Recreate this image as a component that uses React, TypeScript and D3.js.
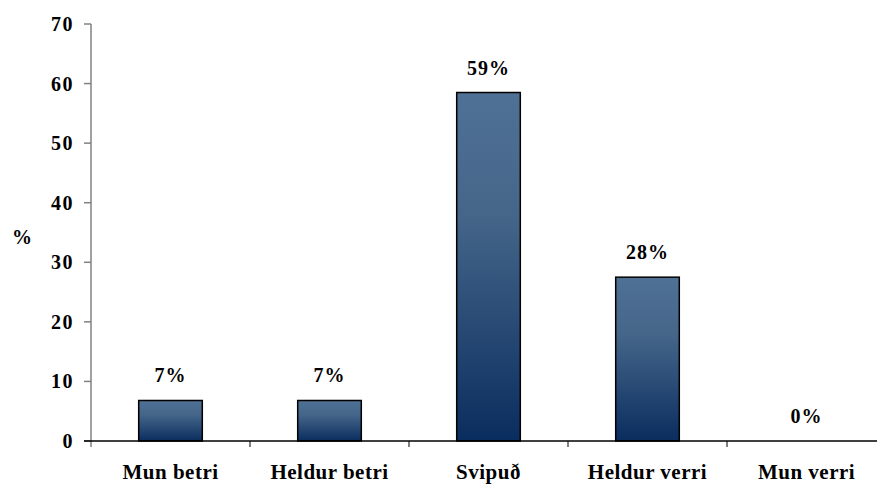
import React from "react";
import * as d3 from "d3";

const categories = ["Mun betri", "Heldur betri", "Svipuð", "Heldur verri", "Mun verri"];
const values = [6.8, 6.8, 58.5, 27.5, 0];
const valueLabels = ["7%", "7%", "59%", "28%", "0%"];
const yTicks = [0, 10, 20, 30, 40, 50, 60, 70];

const W = 877;
const H = 485;
const left = 91;
const right = 886;
const top = 24;
const bottom = 441;
const FONT = "'Liberation Serif', 'Times New Roman', serif";

export default function App() {
  const x = d3.scaleBand<string>().domain(categories).range([left, right]).paddingInner(0).paddingOuter(0);
  const y = d3.scaleLinear().domain([0, 70]).range([bottom, top]);
  const bw = x.bandwidth() * 0.4;

  return (
    <svg width={W} height={H} style={{ position: "absolute", left: 0, top: 0, display: "block" }}>
      <defs>
        <linearGradient id="barGrad" x1="0" y1="0" x2="0" y2="1">
          <stop offset="0" stopColor="#4f7196" />
          <stop offset="0.35" stopColor="#456689" />
          <stop offset="1" stopColor="#0a2d5f" />
        </linearGradient>
      </defs>
      <rect x={0} y={0} width={W} height={H} fill="#fff" />
      {/* y axis */}
      <line x1={left} x2={left} y1={top} y2={bottom + 6} stroke="#808080" strokeWidth={1.5} />
      {yTicks.map((t) => (
        <g key={t}>
          <line x1={left - 7} x2={left} y1={y(t)} y2={y(t)} stroke="#808080" strokeWidth={1.5} />
          <text
            x={74}
            y={y(t)}
            textAnchor="end"
            dominantBaseline="central"
            fontFamily={FONT}
            fontWeight="bold"
            fontSize={20}
            letterSpacing={1.5}
            fill="#000"
          >
            {t}
          </text>
        </g>
      ))}
      <text x={22} y={237} textAnchor="middle" dominantBaseline="central" fontFamily={FONT} fontWeight="bold" fontSize={20} fill="#000">
        %
      </text>
      {/* bars */}
      {categories.map((c, i) => {
        const cx = (x(c) as number) + x.bandwidth() / 2;
        const v = values[i];
        return (
          <g key={c}>
            {v > 0 && (
              <rect
                x={cx - bw / 2}
                y={y(v)}
                width={bw}
                height={y(0) - y(v)}
                fill="url(#barGrad)"
                stroke="#000"
                strokeWidth={1.5}
              />
            )}
            <text
              x={cx}
              y={y(v) - 18}
              textAnchor="middle"
              fontFamily={FONT}
              fontWeight="bold"
              fontSize={20}
              letterSpacing={1}
              fill="#000"
            >
              {valueLabels[i]}
            </text>
            <text
              x={cx}
              y={479}
              textAnchor="middle"
              fontFamily={FONT}
              fontWeight="bold"
              fontSize={21}
              letterSpacing={0.5}
              fill="#000"
            >
              {c}
            </text>
          </g>
        );
      })}
      {/* x axis */}
      <line x1={left - 7} x2={right} y1={bottom} y2={bottom} stroke="#000" strokeWidth={1.5} />
      {categories.slice(1).map((c) => (
        <line
          key={c}
          x1={x(c) as number}
          x2={x(c) as number}
          y1={bottom}
          y2={bottom + 6}
          stroke="#000"
          strokeWidth={1}
        />
      ))}
    </svg>
  );
}
